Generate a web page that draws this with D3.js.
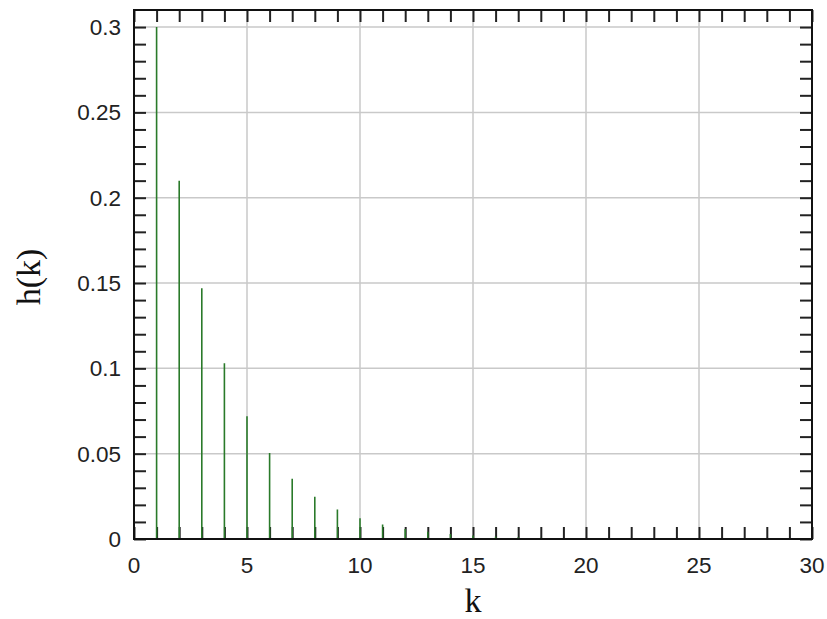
<!DOCTYPE html>
<html>
<head>
<meta charset="utf-8">
<script src="https://cdn.jsdelivr.net/npm/d3@7"></script>
<style>
  html, body { margin: 0; padding: 0; background: #fff; }
  svg { display: block; }
</style>
</head>
<body>
<svg id="chart" width="827" height="619"></svg>
<script>
// Impulse response samples h(k), k = 1..30
const kValues = [1, 2, 3, 4, 5, 6, 7, 8, 9, 10, 11, 12, 13, 14, 15,
                 16, 17, 18, 19, 20, 21, 22, 23, 24, 25, 26, 27, 28, 29, 30];
const hValues = [0.3, 0.21, 0.147, 0.103, 0.072, 0.0504, 0.0353, 0.0247, 0.0173, 0.0121,
                 0.0085, 0.0059, 0.0042, 0.0029, 0.002, 0.0014, 0.001, 0.0007, 0.0005, 0.0003,
                 0.0002, 0.00017, 0.00012, 0.00008, 0.00006, 0.00004, 0.00003, 0.00002, 0.000014, 0.00001];

const xTickValues = [0, 5, 10, 15, 20, 25, 30];
const xTickLabels = ["0", "5", "10", "15", "20", "25", "30"];
const yTickValues = [0, 0.05, 0.1, 0.15, 0.2, 0.25, 0.3];
const yTickLabels = ["0", "0.05", "0.1", "0.15", "0.2", "0.25", "0.3"];
const xMinorTicks = d3.range(0, 31, 1);
const yMinorTicks = d3.range(0, 31, 1).map(i => i / 100);

(function draw() {
  const svg = d3.select("#chart");
  const plotLeft = 134, plotRight = 812, plotTop = 10, plotBottom = 539;

  const x = d3.scaleLinear().domain([0, 30]).range([plotLeft, plotRight]);
  const y = d3.scaleLinear().domain([0, 0.31]).range([plotBottom, plotTop]);

  // grid
  const grid = svg.append("g").attr("stroke", "#c9c9c9").attr("stroke-width", 1.5);
  grid.selectAll("line.gx").data(xTickValues.slice(1, -1)).join("line")
    .attr("x1", d => x(d)).attr("x2", d => x(d)).attr("y1", plotTop).attr("y2", plotBottom);
  grid.selectAll("line.gy").data(yTickValues.slice(1)).join("line")
    .attr("x1", plotLeft).attr("x2", plotRight).attr("y1", d => y(d)).attr("y2", d => y(d));

  // inward tick marks on all four sides
  const tickLen = 12;
  const axisB = d3.axisBottom(x).tickValues(xMinorTicks).tickSize(-tickLen).tickFormat("");
  const axisT = d3.axisTop(x).tickValues(xMinorTicks).tickSize(-tickLen).tickFormat("");
  const axisL = d3.axisLeft(y).tickValues(yMinorTicks).tickSize(-tickLen).tickFormat("");
  const axisR = d3.axisRight(y).tickValues(yMinorTicks).tickSize(-tickLen).tickFormat("");

  function styleTicks(g) {
    g.select(".domain").remove();
    g.selectAll(".tick line").attr("stroke", "#222").attr("stroke-width", 2);
  }
  svg.append("g").attr("transform", `translate(0,${plotBottom})`).call(axisB).call(styleTicks);
  svg.append("g").attr("transform", `translate(0,${plotTop})`).call(axisT).call(styleTicks);
  svg.append("g").attr("transform", `translate(${plotLeft},0)`).call(axisL).call(styleTicks);
  svg.append("g").attr("transform", `translate(${plotRight},0)`).call(axisR).call(styleTicks);

  // stems
  svg.append("g").selectAll("line").data(kValues).join("line")
    .attr("x1", d => x(d)).attr("x2", d => x(d))
    .attr("y1", y(0)).attr("y2", (d, i) => y(hValues[i]))
    .attr("stroke", "#2a7a2a").attr("stroke-width", 1.6);

  // frame
  svg.append("rect").attr("x", plotLeft).attr("y", plotTop)
    .attr("width", plotRight - plotLeft).attr("height", plotBottom - plotTop)
    .attr("fill", "none").attr("stroke", "#111").attr("stroke-width", 2);

  // tick labels
  const labelFont = "Liberation Sans, Arial, sans-serif";
  svg.append("g").selectAll("text").data(xTickValues).join("text")
    .attr("x", d => x(d)).attr("y", 573)
    .attr("text-anchor", "middle")
    .attr("font-family", labelFont).attr("font-size", 22.5).attr("fill", "#222")
    .text((d, i) => xTickLabels[i]);
  svg.append("g").selectAll("text").data(yTickValues).join("text")
    .attr("x", 121).attr("y", d => y(d))
    .attr("dy", "0.36em")
    .attr("text-anchor", "end")
    .attr("font-family", labelFont).attr("font-size", 22.5).attr("fill", "#222")
    .text((d, i) => yTickLabels[i]);

  // axis titles
  const titleFont = "Liberation Serif, Times New Roman, serif";
  svg.append("text").attr("x", 473).attr("y", 612)
    .attr("text-anchor", "middle")
    .attr("font-family", titleFont).attr("font-size", 34).attr("fill", "#111")
    .text("k");
  svg.append("text")
    .attr("transform", "translate(40,277) rotate(-90)")
    .attr("text-anchor", "middle")
    .attr("font-family", titleFont).attr("font-size", 34).attr("fill", "#111")
    .text("h(k)");
})();
</script>
</body>
</html>
